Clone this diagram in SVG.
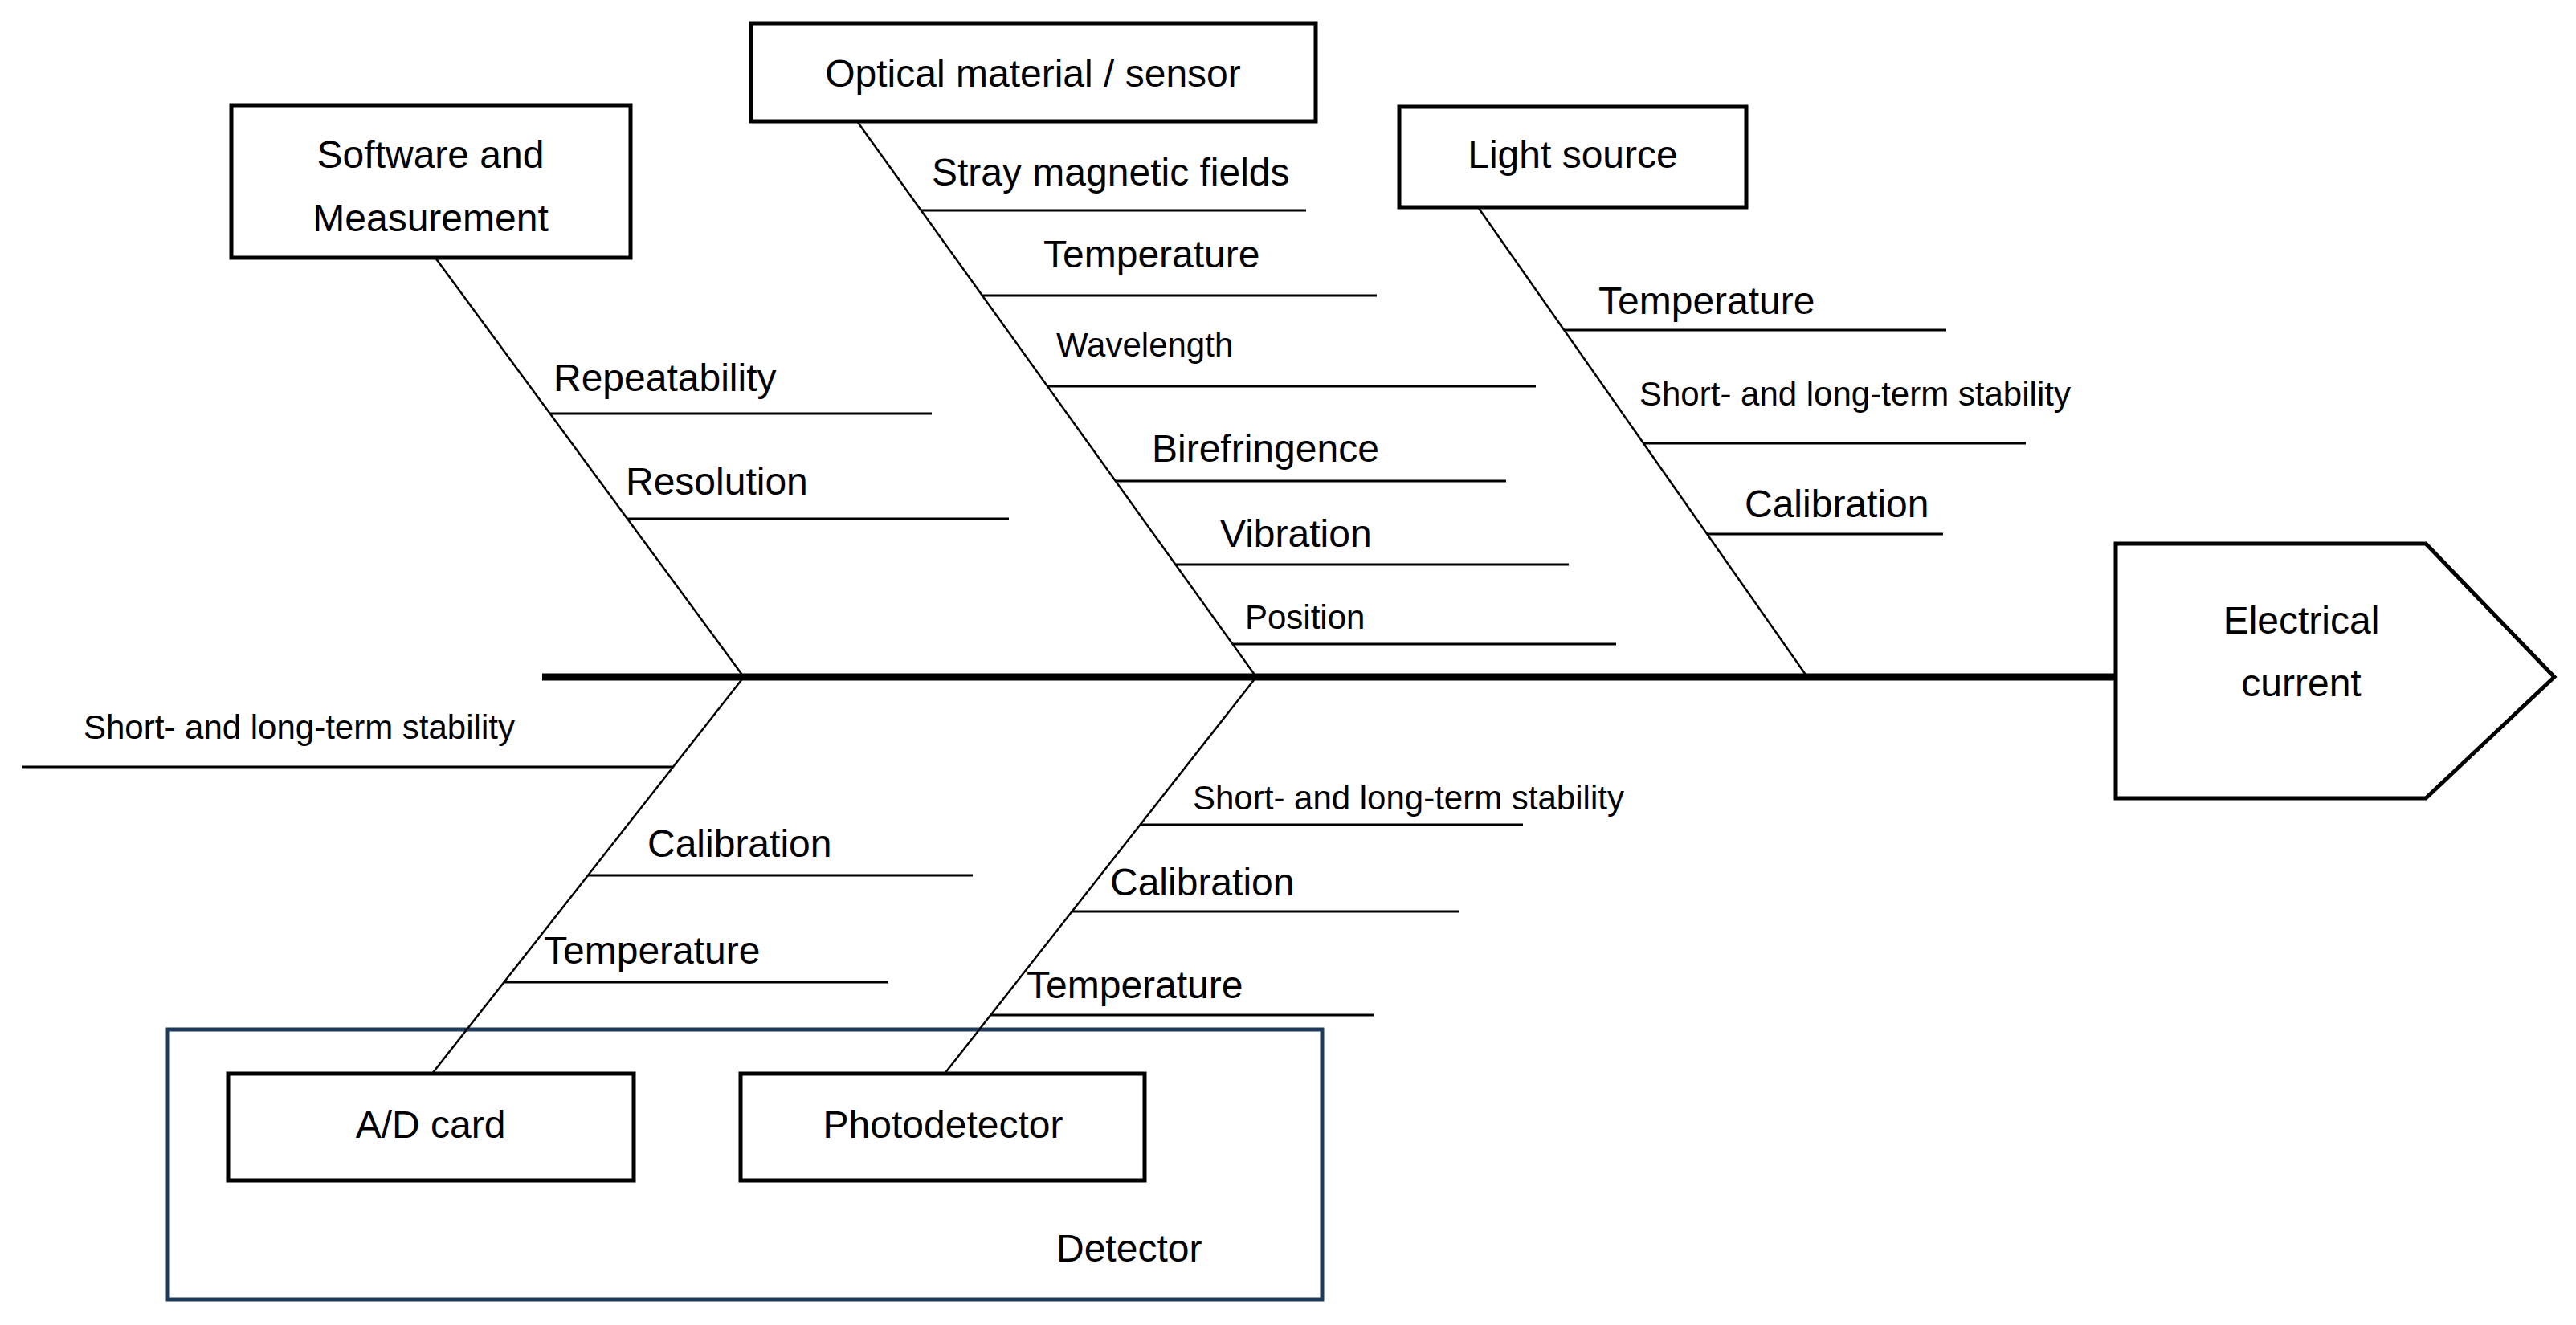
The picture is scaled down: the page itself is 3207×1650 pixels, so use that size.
<svg xmlns="http://www.w3.org/2000/svg" width="3207" height="1650" viewBox="0 0 3207 1650">
<style>
text{font-family:"Liberation Sans",Arial,sans-serif;font-size:48px;fill:#000}
.s{font-size:42px}
.c{text-anchor:middle}
.box{fill:#fff;stroke:#000;stroke-width:5}
.b{stroke:#000;stroke-width:2.5;fill:none}
.h{stroke:#000;stroke-width:3;fill:none}
</style>
<rect width="3207" height="1650" fill="#fff"/>
<g id="detector"><rect x="209" y="1282" width="1437" height="336" fill="none" stroke="#1f3a5a" stroke-width="5"/><text x="1315" y="1571">Detector</text></g>
<g id="connectors">
<line x1="675" y1="843" x2="2634" y2="843" stroke="#000" stroke-width="9"/>
<line class="b" x1="542" y1="321" x2="926" y2="843"/>
<line class="b" x1="1067" y1="151" x2="1564" y2="843"/>
<line class="b" x1="1840" y1="258" x2="2250" y2="843"/>
<line class="b" x1="926" y1="843" x2="538" y2="1337"/>
<line class="b" x1="1564" y1="843" x2="1176" y2="1337"/>
<line class="h" x1="685" y1="515" x2="1160" y2="515"/>
<line class="h" x1="781" y1="646" x2="1256" y2="646"/>
<line class="h" x1="1147" y1="262" x2="1626" y2="262"/>
<line class="h" x1="1223" y1="368" x2="1714" y2="368"/>
<line class="h" x1="1304" y1="481" x2="1912" y2="481"/>
<line class="h" x1="1389" y1="599" x2="1875" y2="599"/>
<line class="h" x1="1463" y1="703" x2="1953" y2="703"/>
<line class="h" x1="1535" y1="802" x2="2012" y2="802"/>
<line class="h" x1="1947" y1="411" x2="2423" y2="411"/>
<line class="h" x1="2046" y1="552" x2="2522" y2="552"/>
<line class="h" x1="2125" y1="665" x2="2419" y2="665"/>
<line class="h" x1="27" y1="955" x2="838" y2="955"/>
<line class="h" x1="732" y1="1090" x2="1211" y2="1090"/>
<line class="h" x1="628" y1="1223" x2="1106" y2="1223"/>
<line class="h" x1="1419" y1="1027" x2="1896" y2="1027"/>
<line class="h" x1="1335" y1="1135" x2="1816" y2="1135"/>
<line class="h" x1="1233" y1="1264" x2="1710" y2="1264"/>
</g>
<g id="labels">
<text x="689" y="487">Repeatability</text>
<text x="779" y="616">Resolution</text>
<text x="1160" y="231">Stray magnetic fields</text>
<text x="1299" y="333">Temperature</text>
<text class="s" x="1315" y="444">Wavelength</text>
<text x="1434" y="575">Birefringence</text>
<text x="1519" y="681">Vibration</text>
<text class="s" x="1550" y="783">Position</text>
<text x="1990" y="391">Temperature</text>
<text class="s" x="2041" y="505">Short- and long-term stability</text>
<text x="2172" y="644">Calibration</text>
<text class="s" x="104" y="920">Short- and long-term stability</text>
<text x="806" y="1067">Calibration</text>
<text x="677" y="1200">Temperature</text>
<text class="s" x="1485" y="1008">Short- and long-term stability</text>
<text x="1382" y="1115">Calibration</text>
<text x="1278" y="1243">Temperature</text>
</g>
<g id="software"><rect class="box" x="288" y="131" width="497" height="190"/><text class="c" x="536" y="209">Software and</text><text class="c" x="536" y="288">Measurement</text></g>
<g id="optical"><rect class="box" x="935" y="29" width="703" height="122"/><text class="c" x="1286" y="108">Optical material / sensor</text></g>
<g id="light"><rect class="box" x="1742" y="133" width="432" height="125"/><text class="c" x="1958" y="209">Light source</text></g>
<g id="current"><polygon class="box" points="2634,677 3020,677 3180,843 3020,994 2634,994"/><text class="c" x="2865" y="789">Electrical</text><text class="c" x="2865" y="867">current</text></g>
<g id="adcard"><rect class="box" x="284" y="1337" width="505" height="133"/><text class="c" x="536" y="1417">A/D card</text></g>
<g id="photodetector"><rect class="box" x="922" y="1337" width="503" height="133"/><text class="c" x="1174" y="1417">Photodetector</text></g>
</svg>
